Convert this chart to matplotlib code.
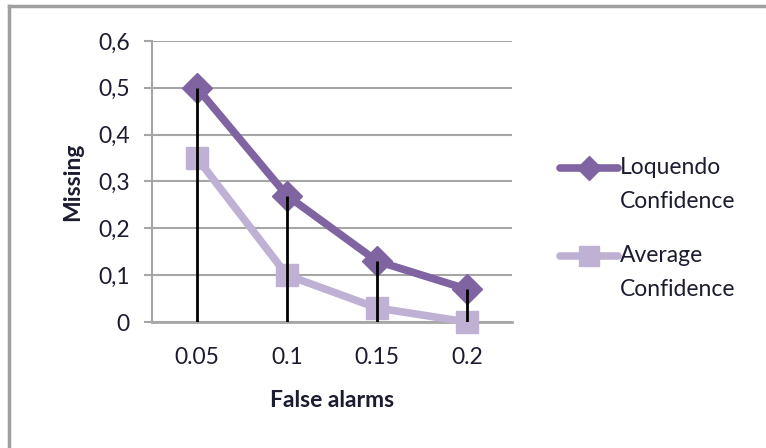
import matplotlib
matplotlib.use("Agg")
import matplotlib.pyplot as plt
from matplotlib.lines import Line2D
from matplotlib.ticker import FuncFormatter

categories = ["0.05", "0.1", "0.15", "0.2"]
loquendo = [0.50, 0.27, 0.13, 0.07]
average = [0.35, 0.10, 0.03, 0.00]
yticks = [0, 0.1, 0.2, 0.3, 0.4, 0.5, 0.6]
series_names = [("Loquendo", "Confidence"), ("Average", "Confidence")]

plt.rcParams['font.family'] = ['Lato', 'DejaVu Sans']
txt = '#1c1c30'
grid_c = '#a6a6a6'
dark = '#8064a2'
light = '#bfb1d3'
fs = 16.5

fig = plt.figure(figsize=(7.66, 4.48), dpi=100)
ax = fig.add_axes([152/766, 1-322/448, (512-152)/766, (322-41)/448])

x = list(range(len(categories)))
ax.plot(x, average, color=light, lw=5.5, marker='s', ms=16, mec=light, mfc=light, zorder=3,
        solid_joinstyle='round', clip_on=False)
ax.plot(x, loquendo, color=dark, lw=5.5, marker='D', ms=15, mec=dark, mfc=dark, zorder=4,
        solid_joinstyle='round', clip_on=False)
ax.vlines(x, 0, loquendo, color='black', lw=2, zorder=5)

ax.set_xlim(-0.5, 3.5)
ax.set_ylim(0, 0.6)
ax.set_xticks(x)
ax.set_xticklabels(categories)
ax.set_yticks(yticks)
ax.yaxis.set_major_formatter(FuncFormatter(lambda v, p: '0' if v == 0 else f'{v:.1f}'.replace('.', ',')))
ax.grid(axis='y', color=grid_c, lw=1.5, zorder=0)
ax.set_axisbelow(True)
for s in ['top', 'right']:
    ax.spines[s].set_visible(False)
ax.spines['left'].set_color(grid_c)
ax.spines['left'].set_linewidth(1.5)
ax.spines['bottom'].set_color(grid_c)
ax.spines['bottom'].set_linewidth(2)
ax.tick_params(axis='y', length=6, width=1.5, color=grid_c, labelsize=fs, labelcolor=txt, pad=10)
ax.tick_params(axis='x', length=0, labelsize=fs, labelcolor=txt, pad=18)
ax.set_ylabel('Missing', fontsize=fs, fontweight='bold', color=txt, labelpad=11)
ax.set_xlabel('False alarms', fontsize=fs, fontweight='bold', color=txt, labelpad=16)
ax.patch.set_visible(False)

# legend (manual, handle aligned with first text line)
leg_y = [1-168/448, 1-256/448]
styles = [dict(color=dark, marker='D', ms=12), dict(color=light, marker='s', ms=14)]
for (l1, l2), yy, st in zip(series_names, leg_y, styles):
    fig.add_artist(Line2D([560/766, 618/766], [yy, yy], lw=5.5, color=st['color'],
                          transform=fig.transFigure, solid_capstyle='round'))
    fig.add_artist(Line2D([589/766], [yy], marker=st['marker'], ms=st['ms'], color=st['color'],
                          mec=st['color'], transform=fig.transFigure))
    fig.text(620/766, yy, l1, fontsize=fs, color=txt, va='center', ha='left')
    fig.text(620/766, yy - 33/448, l2, fontsize=fs, color=txt, va='center', ha='left')

# chart border
fig.add_artist(Line2D([9/766, 9/766], [0, 1-6/448], color='#a0a0a0', lw=2.5, transform=fig.transFigure))
fig.add_artist(Line2D([9/766, 1], [1-6/448, 1-6/448], color='#a0a0a0', lw=2.5, transform=fig.transFigure))

fig.savefig('out.png', dpi=100)
